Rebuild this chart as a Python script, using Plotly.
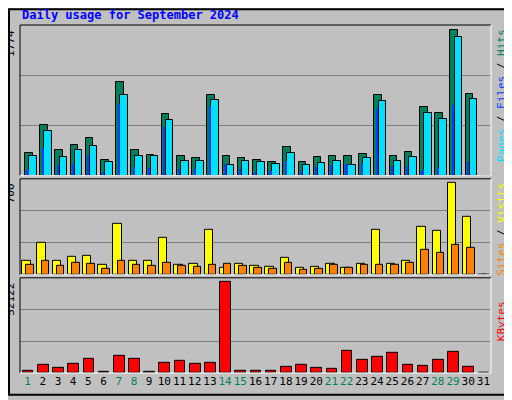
import plotly.graph_objects as go

days = list(range(1, 32))
weekend = [1, 7, 8, 14, 15, 21, 22, 28, 29]

hits = [281, 618, 317, 377, 462, 185, 1136, 317, 257, 750, 233, 209, 979, 233, 209,
        185, 161, 353, 161, 221, 245, 245, 269, 979, 233, 293, 835, 763, 1774, 991, 0]
files = [233, 546, 221, 317, 365, 161, 979, 245, 233, 678, 173, 173, 919, 124, 173,
         161, 137, 281, 124, 149, 173, 124, 209, 907, 173, 221, 763, 690, 1678, 931, 0]
pages = [64, 341, 124, 137, 257, 40, 871, 100, 88, 594, 76, 76, 847, 137, 76,
         40, 52, 173, 52, 100, 124, 137, 137, 823, 112, 112, 64, 88, 859, 161, 0]
visits = [109, 245, 109, 139, 147, 78, 389, 109, 109, 283, 78, 86, 344, 56, 86,
          71, 63, 131, 56, 63, 86, 56, 86, 344, 86, 109, 366, 336, 700, 442, 0]
sites = [78, 109, 71, 93, 86, 48, 109, 78, 71, 93, 71, 63, 78, 86, 71,
         56, 48, 93, 40, 48, 78, 56, 78, 78, 78, 93, 192, 169, 230, 207, 0]
kbytes = [1330, 4760, 3050, 5330, 8190, 760, 9900, 8190, 760, 5900, 7040, 5330, 5900, 52122, 1330,
          1330, 1330, 3620, 4760, 3050, 2480, 12750, 7610, 9330, 11600, 4760, 4190, 7610, 12180, 3620, 0]

GREEN = "#00805c"
CYAN = "#00e0ff"
BLUE = "#0040ff"
YELLOW = "#ffff00"
ORANGE = "#ff8000"
RED = "#ff0000"
BG = "#c0c0c0"
line = dict(color="black", width=1)

fig = go.Figure()
fig.add_bar(x=days, y=hits, offset=-0.17, width=0.5, marker=dict(color=GREEN, line=line), yaxis="y3")
fig.add_bar(x=days, y=files, offset=0.1, width=0.5, marker=dict(color=CYAN, line=line), yaxis="y3")
fig.add_bar(x=days, y=pages, offset=-0.08, width=0.14, marker=dict(color=BLUE, line=dict(width=0)), yaxis="y3")
fig.add_bar(x=days, y=visits, offset=-0.35, width=0.55, marker=dict(color=YELLOW, line=line), yaxis="y2")
fig.add_bar(x=days, y=sites, offset=-0.08, width=0.5, marker=dict(color=ORANGE, line=line), yaxis="y2")
fig.add_bar(x=days, y=kbytes, offset=-0.32, width=0.7, marker=dict(color=RED, line=line), yaxis="y")

top_max, mid_max, bot_max = 1829, 728, 54250
gridc = "#808080"
ycommon = dict(showticklabels=False, showline=False, zeroline=False,
               gridcolor=gridc, gridwidth=1, fixedrange=True)

ticktext = [f"<span style='color:{GREEN if d in weekend else 'black'}'>{d}</span>" for d in days]

# page body has an 8px margin, so the figure is 504x392
fig.update_layout(
    width=504, height=392,
    margin=dict(l=12, r=21, t=17, b=24),
    paper_bgcolor=BG, plot_bgcolor=BG,
    barmode="overlay", bargap=0, showlegend=False,
    font=dict(family="DejaVu Sans Mono", size=11, color="black"),
    xaxis=dict(range=[0.5, 31.5], tickvals=days, ticktext=ticktext, ticks="", tickangle=0,
               showgrid=False, zeroline=False, showline=False, tickfont=dict(size=11)),
    yaxis=dict(domain=[0, 0.2735], range=[0, bot_max], tickvals=[bot_max / 3, 2 * bot_max / 3], **ycommon),
    yaxis2=dict(domain=[0.282, 0.558], range=[0, mid_max], tickvals=[mid_max / 3, 2 * mid_max / 3], **ycommon),
    yaxis3=dict(domain=[0.567, 1], range=[0, top_max], tickvals=[top_max / 3, 2 * top_max / 3], **ycommon),
)

# panel frames (sunken look)
for y0, y1 in [(0, 0.2735), (0.282, 0.558), (0.567, 1)]:
    fig.add_shape(type="line", xref="paper", yref="paper", x0=0, x1=1, y0=y1, y1=y1, line=dict(color="black", width=1))
    fig.add_shape(type="line", xref="paper", yref="paper", x0=0, x1=0, y0=y0, y1=y1, line=dict(color="black", width=1))
    fig.add_shape(type="line", xref="paper", yref="paper", x0=1, x1=1, y0=y0, y1=y1, line=dict(color="white", width=1))
    fig.add_shape(type="line", xref="paper", yref="paper", x0=0, x1=1, y0=y0, y1=y0, line=dict(color="white", width=1))

# outer border
fig.add_shape(type="rect", xref="paper", yref="paper", x0=-11 / 471, x1=1 + 19 / 471,
              y0=-22 / 351, y1=1 + 16 / 351, line=dict(color="black", width=2))

fig.add_annotation(text="<b>Daily usage for September 2024</b>", xref="paper", yref="paper",
                   x=0, y=1 + 10 / 351, xanchor="left", yanchor="middle", showarrow=False,
                   font=dict(size=12, color="#0000ff"))

for label, top in [("1774", 1), ("700", 0.558), ("52122", 0.2735)]:
    fig.add_annotation(text=label, textangle=-90, xref="paper", yref="paper", x=-1 / 471, y=top - 3 / 351,
                       xanchor="right", yanchor="top", showarrow=False, font=dict(size=11))

right = [
    (f"<span style='color:{CYAN}'>Pages</span> / <span style='color:{BLUE}'>Files</span> / "
     f"<span style='color:{GREEN}'>Hits</span>", 1 - 2 / 351),
    (f"<span style='color:{ORANGE}'>Sites</span> / <span style='color:{YELLOW}'>Visits</span>", 0.558 - 2 / 351),
    (f"<span style='color:{RED}'>KBytes</span>", 0.2735 - 22 / 351),
]
for text, top in right:
    fig.add_annotation(text=text, textangle=-90, xref="paper", yref="paper", x=1 + 2 / 471, y=top,
                       xanchor="left", yanchor="top", showarrow=False, font=dict(size=11))

fig.write_html("out.html")
